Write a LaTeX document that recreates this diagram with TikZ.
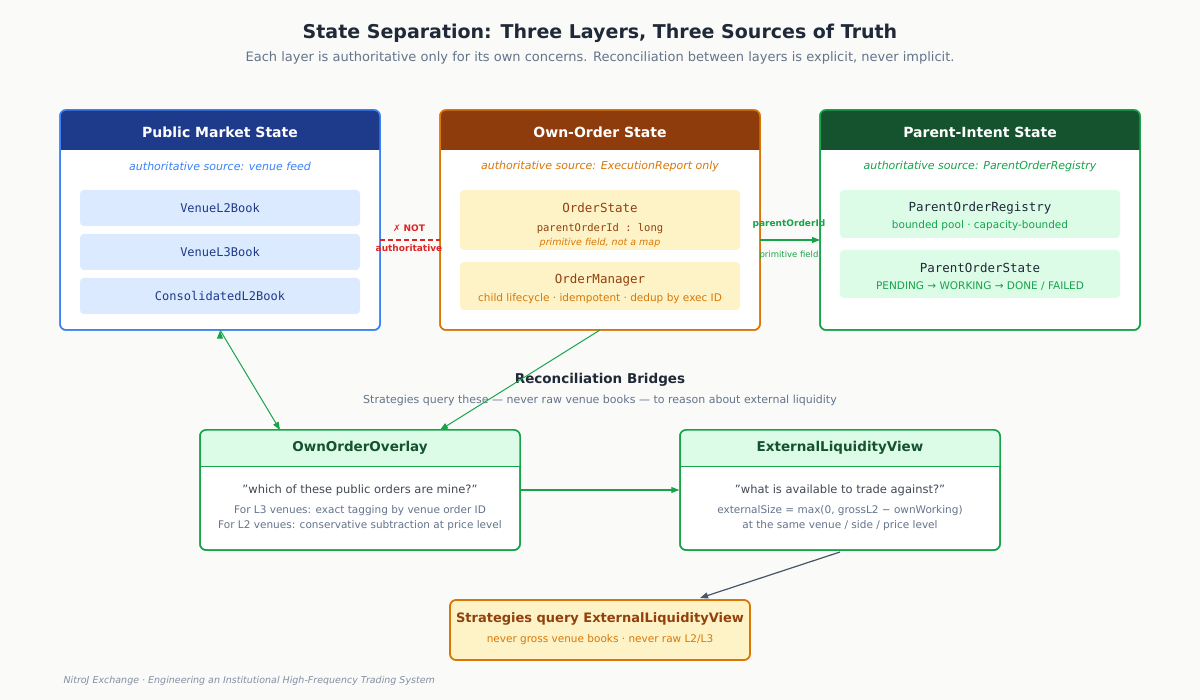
\documentclass[tikz,border=0pt]{standalone}
\usepackage{fontspec}
\setmainfont{DejaVu Sans}
\setmonofont{DejaVu Sans Mono}
\usetikzlibrary{arrows.meta}
\definecolor{bg}{HTML}{FAFAF8}
\definecolor{ink}{HTML}{1F2937}
\definecolor{gray}{HTML}{64748B}
\definecolor{bluehd}{HTML}{1E3A8A}
\definecolor{blueln}{HTML}{3B82F6}
\definecolor{bluefl}{HTML}{DBEAFE}
\definecolor{bluetx}{HTML}{3B82F6}
\definecolor{brownhd}{HTML}{8E3C0C}
\definecolor{orangeln}{HTML}{D97706}
\definecolor{orangefl}{HTML}{FEF3C7}
\definecolor{orangetx}{HTML}{D97706}
\definecolor{browntx}{HTML}{92400E}
\definecolor{greenhd}{HTML}{14532D}
\definecolor{greenln}{HTML}{16A34A}
\definecolor{greenfl}{HTML}{DCFCE7}
\definecolor{greentx}{HTML}{15803D}
\definecolor{redln}{HTML}{DC2626}
\definecolor{slate}{HTML}{475569}
\tikzset{
 frame/.style={draw=#1,line width=1.5pt,fill=white,rounded corners=6pt,inner sep=0pt},
 inner/.style={fill=#1,rounded corners=4pt,inner sep=0pt,minimum width=280pt},
 hdr/.style={font=\fontsize{14}{16}\selectfont\bfseries,text=white},
 hdr2/.style={font=\fontsize{13.5}{16}\selectfont\bfseries,text=greenhd},
 sub/.style={font=\fontsize{11}{13}\selectfont\itshape},
 mono/.style={font=\fontsize{12}{14}\selectfont\ttfamily},
 small/.style={font=\fontsize{10.5}{12}\selectfont},
 arr/.style={-{Triangle[length=8pt,width=6pt]},line width=1.3pt,draw=greenln},
}
\begin{document}
\begin{tikzpicture}[x=1pt,y=-1pt]
\fill[bg] (0,0) rectangle (1200,700);
\useasboundingbox (0,0) rectangle (1200,700);
\node[font=\fontsize{19}{22}\selectfont\bfseries,text=ink] (title) at (600,33) {State Separation: Three Layers, Three Sources of Truth};
\node[font=\fontsize{13}{15}\selectfont,text=gray] (subtitle) at (600,58) {Each layer is authoritative only for its own concerns. Reconciliation between layers is explicit, never implicit.};

% Public
\node[frame=blueln,minimum width=320pt,minimum height=220pt] (pub) at (220,220) {};
\begin{scope}
\clip[rounded corners=6pt] (60,110) rectangle (380,330);
\fill[bluehd] (60,110) rectangle (380,150);
\end{scope}
\draw[blueln,line width=1.5pt,rounded corners=6pt] (60,110) rectangle (380,330);
\node[hdr] (pubh) at (220,132) {Public Market State};
\node[sub,text=bluetx] (pubs) at (220,166) {authoritative source: venue feed};
\node[inner=bluefl,minimum height=36pt,mono,text=bluehd] (l2) at (220,208) {VenueL2Book};
\node[inner=bluefl,minimum height=36pt,mono,text=bluehd] (l3) at (220,252) {VenueL3Book};
\node[inner=bluefl,minimum height=36pt,mono,text=bluehd] (cl2) at (220,296) {ConsolidatedL2Book};

% Own
\node[frame=orangeln,minimum width=320pt,minimum height=220pt] (own) at (600,220) {};
\begin{scope}
\clip[rounded corners=6pt] (440,110) rectangle (760,330);
\fill[brownhd] (440,110) rectangle (760,150);
\end{scope}
\draw[orangeln,line width=1.5pt,rounded corners=6pt] (440,110) rectangle (760,330);
\node[hdr] (ownh) at (600,132) {Own-Order State};
\node[sub,text=orangetx] (owns) at (600,166) {authoritative source: ExecutionReport only};
\node[inner=orangefl,minimum height=60pt] (os) at (600,220) {};
\node[mono,text=browntx,font=\fontsize{12.5}{14}\selectfont\ttfamily] at (600,208) {OrderState};
\node[text=browntx,font=\fontsize{10.5}{12}\selectfont\ttfamily] at (600,229) {parentOrderId : long};
\node[text=orangetx,font=\fontsize{9.5}{11}\selectfont\itshape] at (600,243) {primitive field, not a map};
\node[inner=orangefl,minimum height=48pt] (om) at (600,286) {};
\node[text=browntx,font=\fontsize{12.5}{14}\selectfont\ttfamily] at (600,280) {OrderManager};
\node[text=orangetx,small] at (600,299) {child lifecycle · idempotent · dedup by exec ID};

% Parent
\node[frame=greenln,minimum width=320pt,minimum height=220pt] (par) at (980,220) {};
\begin{scope}
\clip[rounded corners=6pt] (820,110) rectangle (1140,330);
\fill[greenhd] (820,110) rectangle (1140,150);
\end{scope}
\draw[greenln,line width=1.5pt,rounded corners=6pt] (820,110) rectangle (1140,330);
\node[hdr] (parh) at (980,132) {Parent-Intent State};
\node[sub,text=greenln] (pars) at (980,166) {authoritative source: ParentOrderRegistry};
\node[inner=greenfl,minimum height=48pt] (por) at (980,214) {};
\node[text=ink,font=\fontsize{12.5}{14}\selectfont\ttfamily] at (980,208) {ParentOrderRegistry};
\node[text=greenln,small] at (980,226) {bounded pool · capacity-bounded};
\node[inner=greenfl,minimum height=48pt] (pos) at (980,274) {};
\node[text=ink,font=\fontsize{12.5}{14}\selectfont\ttfamily] at (980,268) {ParentOrderState};
\node[text=greenln,small] at (980,286) {PENDING → WORKING → DONE / FAILED};

% connectors between top boxes
\coordinate (na) at (380,240);
\coordinate (nb) at (440,240);
\draw[redln,dashed,line width=1.5pt,dash pattern=on 5pt off 3pt] (na) -- (nb);
\node[text=redln,font=\fontsize{9}{10}\selectfont\bfseries] (nt1) at (409,228) {✗ NOT};
\node[text=redln,font=\fontsize{9}{10}\selectfont\bfseries] (nt2) at (409,248) {authoritative};
\coordinate (pa) at (760,240);
\coordinate (pb) at (820,240);
\draw[arr] (pa) -- (pb);
\node[text=greenln,font=\fontsize{9}{10}\selectfont\bfseries] (pl1) at (789,224) {parentOrderId};
\node[text=greenln,font=\fontsize{8.5}{10}\selectfont] (pl2) at (789,255) {primitive field};

% Reconciliation
\node[font=\fontsize{13.5}{16}\selectfont\bfseries,text=ink] (rb) at (600,380) {Reconciliation Bridges};
\node[font=\fontsize{11}{13}\selectfont,text=gray] (rbs) at (600,400) {Strategies query these — never raw venue books — to reason about external liquidity};

% Overlay
\node[frame=greenln,minimum width=320pt,minimum height=120pt] (ov) at (360,490) {};
\begin{scope}
\clip[rounded corners=6pt] (200,430) rectangle (520,550);
\fill[greenfl] (200,430) rectangle (520,466);
\end{scope}
\draw[greenln,line width=0.8pt] (200,466) -- (520,466);
\draw[greenln,line width=1.5pt,rounded corners=6pt] (200,430) rectangle (520,550);
\node[hdr2] at (360,448) {OwnOrderOverlay};
\node[text=ink!85,font=\fontsize{11.5}{13}\selectfont] at (360,490) {"which of these public orders are mine?"};
\node[text=gray,small] at (360,511) {For L3 venues: exact tagging by venue order ID};
\node[text=gray,small] at (360,526) {For L2 venues: conservative subtraction at price level};

% External
\node[frame=greenln,minimum width=320pt,minimum height=120pt] (ex) at (840,490) {};
\begin{scope}
\clip[rounded corners=6pt] (680,430) rectangle (1000,550);
\fill[greenfl] (680,430) rectangle (1000,466);
\end{scope}
\draw[greenln,line width=0.8pt] (680,466) -- (1000,466);
\draw[greenln,line width=1.5pt,rounded corners=6pt] (680,430) rectangle (1000,550);
\node[hdr2] at (840,448) {ExternalLiquidityView};
\node[text=ink!85,font=\fontsize{11.5}{13}\selectfont] at (840,490) {"what is available to trade against?"};
\node[text=gray,small] at (840,511) {externalSize = max(0, grossL2 − ownWorking)};
\node[text=gray,small] at (840,526) {at the same venue / side / price level};

% Strategies
\node[fill=orangefl,draw=orangeln,line width=1.8pt,rounded corners=6pt,minimum width=300pt,minimum height=60pt] (st) at (600,630) {};
\node[text=browntx,font=\fontsize{13}{15}\selectfont\bfseries] at (600,619) {Strategies query ExternalLiquidityView};
\node[text=orangetx,small] at (600,640) {never gross venue books · never raw L2/L3};

% arrows
\draw[arr,line width=1pt] (pub.south) ++(0,0) coordinate (ps) ;
\draw[arr,line width=1pt] (220,330) -- (280,430);
\draw[arr,line width=1pt] (600,330) -- (440,430);
\draw[arr,line width=1pt] (ov.east) -- (ex.west);
\draw[-{Triangle[length=8pt,width=6pt]},line width=1.2pt,slate] (840,552) -- (700,598);

\node[anchor=west,text=gray!80,font=\fontsize{9.5}{11}\selectfont\itshape] (foot) at (60,681) {NitroJ Exchange · Engineering an Institutional High-Frequency Trading System};
\end{tikzpicture}
\end{document}
